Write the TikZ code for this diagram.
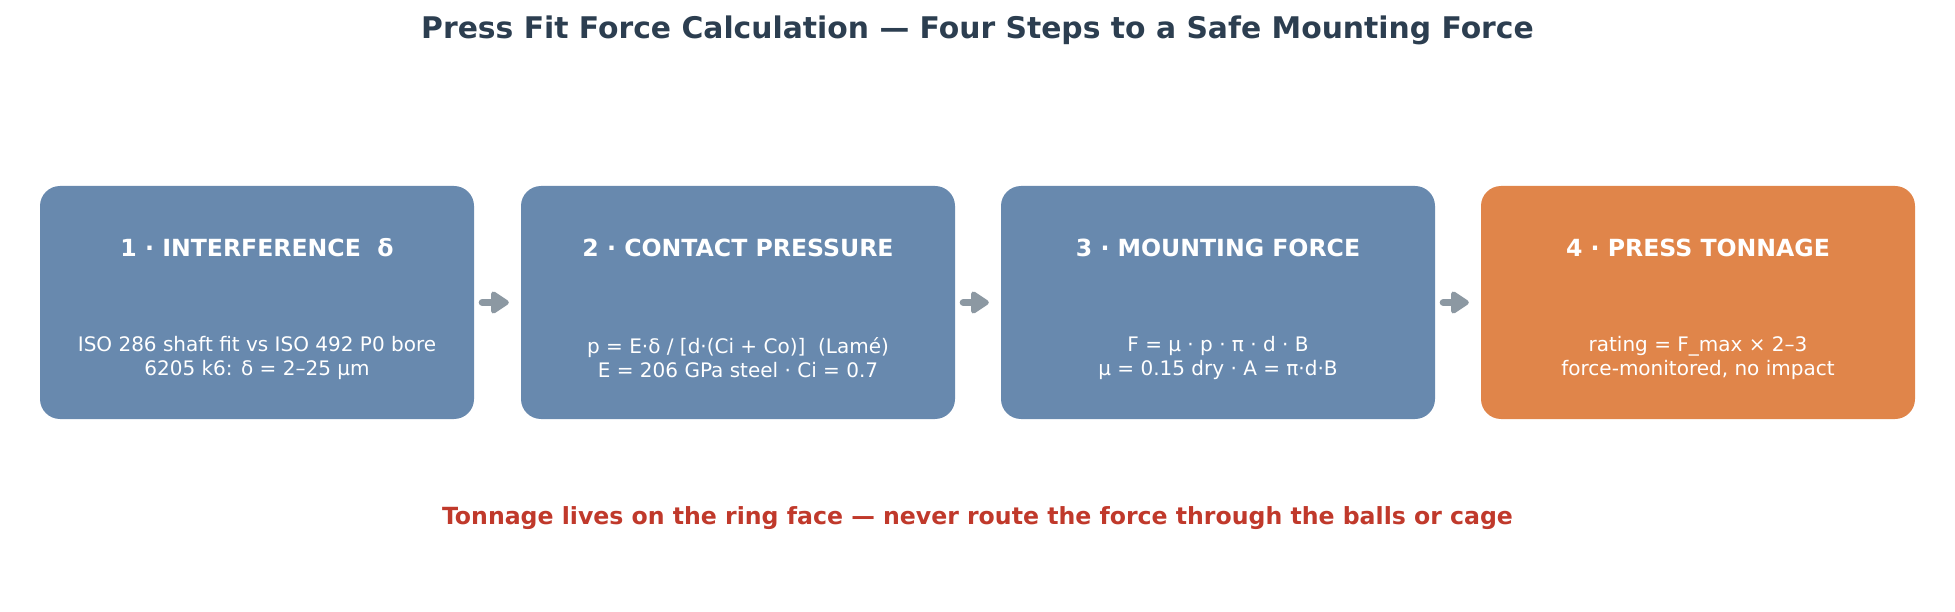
\documentclass[tikz,border=0pt]{standalone}
\usepackage{fontspec}
\setmainfont{DejaVu Sans}
\usetikzlibrary{arrows.meta}
\definecolor{stepblue}{HTML}{6889AE}
\definecolor{steporange}{HTML}{E0854A}
\definecolor{titlecol}{HTML}{2C3E50}
\definecolor{warncol}{HTML}{C0392B}
\definecolor{arrowcol}{HTML}{8C98A2}
\tikzset{
  stepbox/.style={rounded corners=20pt, minimum width=434pt, minimum height=233pt, inner sep=0pt, draw=none},
  boxhead/.style={text=white, font=\fontsize{23.6}{28}\selectfont\bfseries, inner sep=0pt},
  boxbody/.style={text=white, font=\fontsize{20}{24}\selectfont, align=center, inner sep=0pt},
  flow/.style={draw=arrowcol, line width=7pt, -{Triangle[length=20pt, width=25pt, round]}, line cap=round}
}
\begin{document}
\begin{tikzpicture}[x=1pt, y=-1pt]
\useasboundingbox (0,0) rectangle (1955,612);
\node[text=titlecol, font=\fontsize{29.8}{36}\selectfont\bfseries] (title) at (977.5,30) {Press Fit Force Calculation — Four Steps to a Safe Mounting Force};

\node[stepbox, fill=stepblue] (b1) at (257,302.5) {};
\node[stepbox, fill=stepblue] (b2) at (738,302.5) {};
\node[stepbox, fill=stepblue] (b3) at (1218,302.5) {};
\node[stepbox, fill=steporange] (b4) at (1698,302.5) {};

\node[boxhead] (h1) at (257,247.5) {1 · INTERFERENCE\ \ δ};
\node[boxhead] (h2) at (738,247.5) {2 · CONTACT PRESSURE};
\node[boxhead] (h3) at (1218,247.5) {3 · MOUNTING FORCE};
\node[boxhead] (h4) at (1698,247.5) {4 · PRESS TONNAGE};

\node[boxbody] (t1) at (257,357.5) {ISO 286 shaft fit vs ISO 492 P0 bore\\6205 k6: δ = 2–25 µm};
\node[boxbody] (t2) at (738,357.5) {p = E·δ / [d·(Ci + Co)]\ \ (Lamé)\\E = 206 GPa steel · Ci = 0.7};
\node[boxbody] (t3) at (1218,357.5) {F = µ · p · π · d · B\\µ = 0.15 dry · A = π·d·B};
\node[boxbody] (t4) at (1698,357.5) {rating = F\_max × 2–3\\force-monitored, no impact};

\draw[flow] ([xshift=8pt]b1.east) -- ([xshift=-12pt]b2.west);
\draw[flow] ([xshift=8pt]b2.east) -- ([xshift=-12pt]b3.west);
\draw[flow] ([xshift=8pt]b3.east) -- ([xshift=-12pt]b4.west);

\node[text=warncol, font=\fontsize{23.6}{28}\selectfont\bfseries] (foot) at (977.5,518) {Tonnage lives on the ring face — never route the force through the balls or cage};
\end{tikzpicture}
\end{document}
